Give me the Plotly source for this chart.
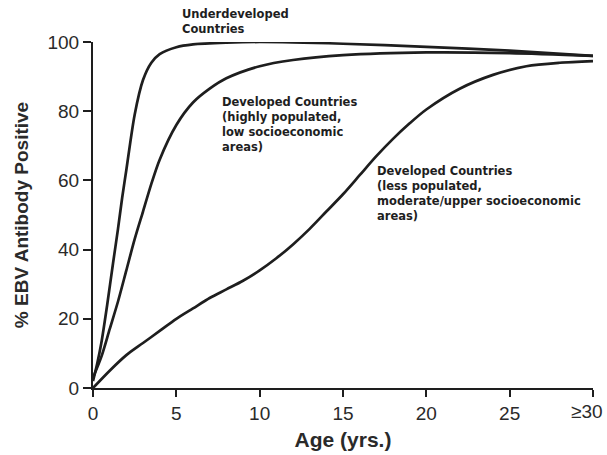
import plotly.graph_objects as go

# Age (years) and % EBV antibody positive
under_age = [0, 0.25, 0.5, 0.85, 1.2, 1.5, 1.75, 2, 2.5, 3, 3.5, 4, 5, 6, 8, 10, 15, 20, 25, 30]
under_pct = [2, 7, 13, 24, 36, 46, 55, 63, 79, 89, 94, 96.5, 98.5, 99.3, 99.8, 100, 99.5, 98.6, 97.5, 96]

high_age = [0, 0.5, 1, 1.5, 2, 2.5, 3, 3.5, 4, 5, 6, 7, 8, 10, 12, 15, 20, 25, 30]
high_pct = [3, 9, 17, 25, 34, 43, 51, 59, 66, 76, 82.5, 86.5, 89.5, 93, 94.8, 96.2, 97, 96.8, 96]

low_age = [0, 1, 2, 3, 4, 5, 6, 7, 8, 9, 10, 11, 12, 13, 14, 15, 16, 17, 18, 19, 20, 22, 24, 26, 28, 30]
low_pct = [0, 5, 9.5, 13, 16.5, 20, 23, 26, 28.5, 31, 34, 37.5, 41.5, 46, 51, 56, 61.5, 67, 72, 76.5, 80.5, 86.5, 90.5, 93, 94, 94.5]

x_tick_vals = [0, 5, 10, 15, 20, 25, 30]
x_tick_text = ["0", "5", "10", "15", "20", "25", ""]
last_x_label = "≥30"   # drawn right-aligned at the last tick so it stays inside the page
y_tick_vals = [0, 20, 40, 60, 80, 100]

label_under = "Underdeveloped<br>Countries"
label_high = "Developed Countries<br>(highly populated,<br>low socioeconomic<br>areas)"
label_low = "Developed Countries<br>(less populated,<br>moderate/upper socioeconomic<br>areas)"

ink = "#1e1e1e"
text_ink = "#2a2a2a"
line_style = dict(color=ink, width=2.7, shape="spline", smoothing=0.8)

fig = go.Figure()
for xs, ys in [(under_age, under_pct), (high_age, high_pct), (low_age, low_pct)]:
    fig.add_trace(go.Scatter(x=xs, y=ys, mode="lines", line=line_style,
                             cliponaxis=False, showlegend=False, hoverinfo="skip"))

fam = "Liberation Sans, Arial, sans-serif"
ann_font = dict(family="DejaVu Sans, sans-serif", size=11.5, color=ink)
fig.add_annotation(x=5.2, xref="x", y=1.108, yref="paper", text="<b>" + label_under + "</b>",
                   showarrow=False, xanchor="left", yanchor="top", align="left", font=ann_font)
fig.add_annotation(x=7.6, y=85.2, text="<b>" + label_high + "</b>", showarrow=False,
                   xanchor="left", yanchor="top", align="left", font=ann_font)
fig.add_annotation(x=16.9, y=65.4, text="<b>" + label_low + "</b>", showarrow=False,
                   xanchor="left", yanchor="top", align="left", font=ann_font)

axis_font = dict(family=fam, size=19, color=text_ink)
fig.add_annotation(x=x_tick_vals[-1], xref="x", y=-0.032, yref="paper", text=last_x_label,
                   showarrow=False, xanchor="right", yanchor="top", xshift=12, font=axis_font)

fig.update_xaxes(range=[0, 30], tickvals=x_tick_vals, ticktext=x_tick_text, automargin=False,
                 showgrid=False, zeroline=False, showline=True, linecolor=ink, linewidth=2,
                 ticks="outside", ticklen=7, tickwidth=2, tickcolor=ink, tickfont=axis_font,
                 title=dict(text="<b>Age (yrs.)</b>", font=dict(family=fam, size=21, color=text_ink),
                            standoff=10))
fig.update_yaxes(range=[0, 100], tickvals=y_tick_vals, automargin=False,
                 showgrid=False, zeroline=False, showline=True, linecolor=ink, linewidth=2,
                 ticks="outside", ticklen=8, tickwidth=2, tickcolor=ink, tickfont=axis_font,
                 title=dict(text="<b>% EBV Antibody Positive</b>",
                            font=dict(family=fam, size=19, color=text_ink), standoff=14))

fig.update_layout(width=607, height=455, margin=dict(l=93, r=14, t=42, b=67),
                  plot_bgcolor="white", paper_bgcolor="white")

# remove the default page margin so the 607x455 figure fills the window exactly
fig.write_html("out.html", config={"displayModeBar": False},
               post_script="document.body.style.margin='0';document.body.style.overflow='hidden';")
